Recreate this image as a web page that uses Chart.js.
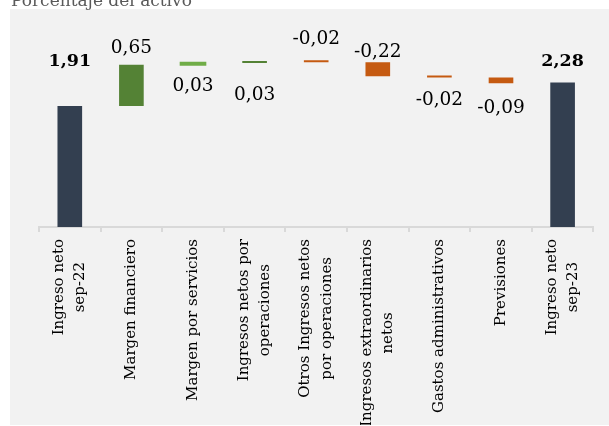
<!DOCTYPE html>
<html>
<head>
<meta charset="utf-8">
<script src="https://cdn.jsdelivr.net/npm/chart.js@4/dist/chart.umd.min.js"></script>
<style>
  html, body { margin: 0; padding: 0; background: #ffffff; width: 609px; height: 426px; overflow: hidden; position: relative; }
  #title { position: absolute; left: 11px; top: -8px; font: 17px "DejaVu Serif", serif; line-height: 17px; color: #595959; white-space: nowrap; z-index: 2; }
  #panel { position: absolute; left: 10px; top: 9px; width: 599px; height: 416px; background: #f2f2f2; }
  canvas { display: block; }
</style>
</head>
<body>
<div id="title">Porcentaje del activo</div>
<div id="panel"><canvas id="chart" width="599" height="416"></canvas></div>
<script>
// Categories (multi-line axis labels)
const categories = [
  ["Ingreso neto", "sep-22"],
  ["Margen financiero"],
  ["Margen por servicios"],
  ["Ingresos netos por", "operaciones"],
  ["Otros Ingresos netos", "por operaciones"],
  ["Ingresos extraordinarios", "netos"],
  ["Gastos administrativos"],
  ["Previsiones"],
  ["Ingreso neto", "sep-23"]
];

// Values, % of assets
const startTotal = 1.91;
const changes = [0.65, 0.03, 0.03, -0.02, -0.22, -0.02, -0.09];
const endTotal = 2.28;

// Floating bar ranges for the waterfall
const ranges = [[0, startTotal]];
let running = startTotal;
for (const d of changes) {
  ranges.push([running, running + d]);
  running += d;
}
ranges.push([0, endTotal]);

const shownValues = [startTotal, ...changes, endTotal];
const fmt = v => v.toFixed(2).replace('.', ',');

const barColors = ['#333F50', '#548235', '#70AD47', '#548235', '#C55A11', '#C55A11', '#C55A11', '#C55A11', '#333F50'];

// Where each value label sits relative to its bar
const labelPlacement = [
  { at: 'level', bold: true },
  { at: 'above', gap: 12 },
  { at: 'below', gap: 26 },
  { at: 'below', gap: 37 },
  { at: 'above', gap: 16 },
  { at: 'above', gap: 5 },
  { at: 'below', gap: 27 },
  { at: 'below', gap: 30 },
  { at: 'level', bold: true }
];

const valueLabels = {
  id: 'valueLabels',
  afterDatasetsDraw(chart, args, opts) {
    const { ctx } = chart;
    const meta = chart.getDatasetMeta(0);
    const yScale = chart.scales.y;
    ctx.save();
    ctx.fillStyle = '#000000';
    ctx.textAlign = 'center';
    ctx.textBaseline = 'alphabetic';
    meta.data.forEach((bar, i) => {
      const p = opts.placement[i];
      const top = Math.min(bar.y, bar.base);
      const bottom = Math.max(bar.y, bar.base);
      let baseline;
      if (p.at === 'level') baseline = yScale.getPixelForValue(opts.totalLevel);
      else if (p.at === 'above') baseline = top - p.gap;
      else baseline = bottom + p.gap;
      ctx.font = p.bold ? 'bold 17.5px "DejaVu Serif"' : '18.5px "DejaVu Serif"';
      ctx.fillText(fmt(shownValues[i]), bar.x, baseline);
    });
    ctx.restore();
  }
};

// Rotated, centred multi-line category labels under the axis
const axisLabels = {
  id: 'axisLabels',
  afterDraw(chart, args, opts) {
    const { ctx, chartArea } = chart;
    const xScale = chart.scales.x;
    ctx.save();
    ctx.font = '15px "DejaVu Serif"';
    ctx.fillStyle = '#000000';
    ctx.textAlign = 'center';
    ctx.textBaseline = 'middle';
    const top = chartArea.bottom + opts.gap;
    categories.forEach((lines, i) => {
      const x = xScale.getPixelForValue(i);
      const w = Math.max(...lines.map(l => ctx.measureText(l).width));
      lines.forEach((line, j) => {
        ctx.save();
        ctx.translate(x + (j - (lines.length - 1) / 2) * opts.lineHeight, top);
        ctx.rotate(-Math.PI / 2);
        ctx.fillText(line, -w / 2, 0);
        ctx.restore();
      });
    });
    ctx.restore();
  }
};

new Chart(document.getElementById('chart'), {
  type: 'bar',
  data: {
    labels: categories.map(c => c.join(' ')),
    datasets: [{
      data: ranges,
      backgroundColor: barColors,
      borderWidth: 0,
      categoryPercentage: 1,
      barPercentage: 0.4,
      minBarLength: 2,
      inflateAmount: ctx => (ctx.dataIndex === 2 ? 1 : 'auto')
    }]
  },
  options: {
    responsive: false,
    animation: false,
    events: [],
    layout: { padding: { left: 29, right: 15.6, top: 28, bottom: 193 } },
    plugins: {
      legend: { display: false },
      tooltip: { enabled: false },
      valueLabels: { placement: labelPlacement, totalLevel: 2.54 },
      axisLabels: { gap: 12, lineHeight: 21.5 }
    },
    scales: {
      x: {
        offset: true,
        grid: { display: true, offset: true, drawOnChartArea: false, drawTicks: true, tickLength: 5, color: '#d9d9d9', lineWidth: 2 },
        border: { display: true, color: '#d9d9d9', width: 2 },
        ticks: { display: false }
      },
      y: { display: false, min: 0, max: 3 }
    }
  },
  plugins: [valueLabels, axisLabels]
});
</script>
</body>
</html>
